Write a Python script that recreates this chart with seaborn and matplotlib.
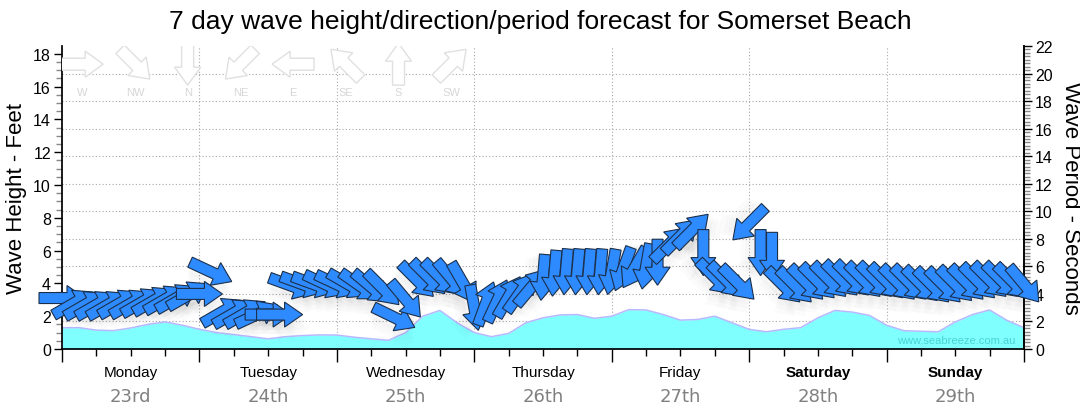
import numpy as np
import matplotlib
matplotlib.use('Agg')
import matplotlib.pyplot as plt
import matplotlib.transforms as mtransforms
from matplotlib.patches import Polygon
from matplotlib.ticker import MultipleLocator
import seaborn as sns

sns.set_theme(style='white')
plt.rcParams['font.family'] = ['Liberation Sans', 'DejaVu Sans']
plt.rcParams['text.color'] = 'black'
plt.rcParams['axes.labelcolor'] = 'black'
plt.rcParams['xtick.color'] = 'black'
plt.rcParams['ytick.color'] = 'black'

# wave height (feet), every 3 hours from Monday 00:00
height_hours = np.arange(0, 169, 3)
height_ft = [1.30, 1.30, 1.15, 1.12, 1.28, 1.50, 1.65, 1.45, 1.20, 1.00,
             0.88, 0.75, 0.62, 0.75, 0.82, 0.86, 0.85, 0.72, 0.62, 0.53,
             1.00, 2.00, 2.35, 1.60, 1.00, 0.75, 0.95, 1.60, 1.90, 2.08,
             2.10, 1.87, 2.00, 2.40, 2.38, 2.10, 1.76, 1.80, 2.00, 1.60,
             1.20, 1.05, 1.20, 1.30, 1.90, 2.35, 2.25, 2.05, 1.45, 1.12,
             1.08, 1.05, 1.65, 2.10, 2.38, 1.75, 1.30]

# swell arrows, every 2 hours: period (s) and direction the swell comes from (deg)
arrow_hours = np.arange(0, 169, 2)
period_s = [3.7, 3.3, 3.2, 3.2, 3.2, 3.3, 3.3, 3.4, 3.5, 3.6, 3.7, 3.9,
            4.0, 5.6, 2.7, 2.6, 2.6, 2.5, 2.5, 2.5, 4.6, 4.7, 4.7, 4.7,
            4.7, 4.7, 4.6, 4.5, 4.4, 2.3, 3.6, 5.0, 5.2, 5.2, 5.1, 4.8,
            3.0, 3.3, 3.5, 3.8, 4.1, 4.5, 5.2, 5.5, 5.6, 5.6, 5.6, 5.6,
            5.6, 5.8, 5.9, 6.0, 6.3, 7.6, 8.2, 8.6, 7.0, 5.2, 5.0, 4.8,
            9.1, 7.0, 6.8, 4.6, 4.6, 4.8, 4.9, 5.0, 5.1, 5.1, 5.0, 5.0,
            4.9, 4.8, 4.8, 4.7, 4.6, 4.6, 4.7, 4.8, 4.9, 5.0, 5.0, 4.9,
            4.7]
direction_deg = [270, 240, 240, 240, 240, 240, 240, 240, 240, 240, 240, 240,
                 270, 295, 240, 240, 240, 245, 270, 270, 290, 290, 290, 295,
                 295, 300, 305, 310, 315, 296, 320, 315, 315, 315, 320, 330,
                 350, 200, 205, 210, 215, 220, 5, 5, 5, 5, 5, 5,
                 10, 20, 30, 10, 0, 225, 225, 225, 0, 315, 315, 315,
                 45, 0, 0, 315, 315, 315, 315, 315, 315, 315, 315, 315,
                 315, 315, 315, 315, 315, 315, 315, 315, 315, 315, 315, 315,
                 320]

days = ['Monday', 'Tuesday', 'Wednesday', 'Thursday', 'Friday', 'Saturday', 'Sunday']
dates = ['23rd', '24th', '25th', '26th', '27th', '28th', '29th']
weekend = ['Saturday', 'Sunday']
compass_names = ['W', 'NW', 'N', 'NE', 'E', 'SE', 'S', 'SW']
compass_deg = [270, 315, 0, 45, 90, 135, 180, 225]

PERIOD_MAX = 22
FEET_MAX = 18.47   # matches the right axis scale

fig = plt.figure(figsize=(10.8, 4.14), dpi=100)
ax = fig.add_axes([62/1080, 64/414, 962/1080, 303/414])
ax.set_xlim(0, 168)
ax.set_ylim(0, FEET_MAX)
ax2 = ax.twinx()
ax2.set_ylim(0, PERIOD_MAX)
ax2.set_xlim(0, 168)

# dotted grid (drawn under the fill)
for s in range(2, PERIOD_MAX, 2):
    ax.axhline(s * FEET_MAX / PERIOD_MAX, color='#a8a8a8', lw=0.8, ls=(0, (1, 2)), zorder=0)
for h in range(24, 168, 24):
    ax.axvline(h, color='#a8a8a8', lw=0.8, ls=(0, (1, 2)), zorder=0)

# wave height area
ax.fill_between(height_hours, 0, height_ft, color='#80ffff', zorder=1, lw=0)
sns.lineplot(x=height_hours, y=height_ft, ax=ax, color='#b8b8ff', lw=1.1, zorder=2)
ax.text(0.991, 0.03, 'www.seabreeze.com.au', transform=ax.transAxes, ha='right',
        va='center', color='#48d4d4', fontsize=8, zorder=3)

# arrows
ARROW = np.array([(-23, -5.5), (5, -5.5), (5, -12.5), (23, 0), (5, 12.5), (5, 5.5), (-23, 5.5)])
LEGEND_ARROW = np.array([(-21, -6), (3, -6), (3, -13), (21, 0), (3, 13), (3, 6), (-21, 6)])


def arrow_patch(shape, x, y, deg_from, base, **kw):
    ang = 90 - (deg_from + 180)
    tr = mtransforms.Affine2D().rotate_deg(ang) + mtransforms.ScaledTranslation(x, y, base)
    return Polygon(shape, closed=True, transform=tr, **kw)


# soft shadow first
for h, p, d in zip(arrow_hours, period_s, direction_deg):
    for dx, dy in [(2, -6), (4, -10), (6, -14)]:
        sh = ARROW + np.array([dx, dy])
        ax2.add_patch(arrow_patch(sh, h, p, d, ax2.transData, facecolor='black',
                                  edgecolor='none', alpha=0.016, zorder=3))
for h, p, d in zip(arrow_hours, period_s, direction_deg):
    ax2.add_patch(arrow_patch(ARROW, h, p, d, ax2.transData, facecolor='#2e8bff',
                              edgecolor='#1b2f4a', lw=0.8, zorder=4, clip_on=False))

# compass legend
for i, (name, deg) in enumerate(zip(compass_names, compass_deg)):
    xf = 0.021 + 0.0548 * i
    ax2.add_patch(arrow_patch(LEGEND_ARROW, xf, 0.94, deg, ax2.transAxes, facecolor='white',
                              edgecolor='#e0e0e0', lw=1.0, zorder=2))
    ax2.text(xf, 0.848, name, transform=ax2.transAxes, ha='center', va='center',
             color='#d6d6d6', fontsize=8, zorder=2)

# axes styling
for a in (ax, ax2):
    a.spines['top'].set_visible(False)
    a.grid(False)
ax.spines['left'].set_color('black')
ax.spines['bottom'].set_color('black')
ax2.spines['right'].set_color('black')
ax2.spines['left'].set_visible(False)
ax2.spines['bottom'].set_visible(False)

ax.yaxis.set_major_locator(MultipleLocator(2))
ax.yaxis.set_minor_locator(MultipleLocator(0.5))
ax2.yaxis.set_major_locator(MultipleLocator(2))
ax2.yaxis.set_minor_locator(MultipleLocator(0.25))
ax.xaxis.set_major_locator(MultipleLocator(24))
ax.xaxis.set_minor_locator(MultipleLocator(6))
ax.set_xticklabels([])
ax.tick_params(axis='y', which='major', left=True, length=6, width=1, color='black',
               labelsize=11.5, pad=2)
ax.tick_params(axis='y', which='minor', left=True, length=4, width=1, color='#888888')
ax2.tick_params(axis='y', which='major', right=True, length=6, width=1, color='black',
                labelsize=11.5, pad=2)
ax2.tick_params(axis='y', which='minor', right=True, length=4, width=1, color='#888888')
ax.tick_params(axis='x', which='major', bottom=True, length=9, width=1, color='black')
ax.tick_params(axis='x', which='minor', bottom=True, length=5, width=1, color='black')

ax.set_ylabel('Wave Height - Feet', fontsize=16, labelpad=4)
ax2.set_ylabel('Wave Period - Seconds', fontsize=16, rotation=-90, labelpad=20)

tr = mtransforms.blended_transform_factory(ax.transData, ax.transAxes)
for i, (day, date) in enumerate(zip(days, dates)):
    ax.text(12 + 24 * i, -0.076, day, transform=tr, ha='center', va='center', fontsize=11,
            fontweight='bold' if day in weekend else 'normal', color='black')
    ax.text(12 + 24 * i, -0.155, date, transform=tr, ha='center', va='center', fontsize=13,
            color='#808080', family='DejaVu Sans')

fig.suptitle('7 day wave height/direction/period forecast for Somerset Beach',
             fontsize=19, y=0.975, color='black')

fig.savefig('out.png', dpi=100)
